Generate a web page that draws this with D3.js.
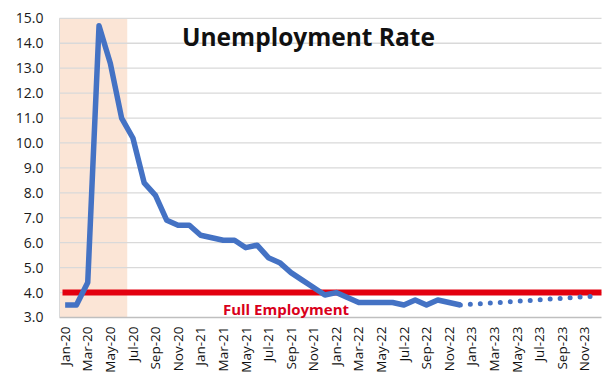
<!DOCTYPE html>
<html><head><meta charset="utf-8">
<script src="https://cdn.jsdelivr.net/npm/d3@7"></script>
<style>body{margin:0;background:#fff}svg{display:block}</style>
</head><body>
<script>
const months = ["Jan","Feb","Mar","Apr","May","Jun","Jul","Aug","Sep","Oct","Nov","Dec"];
const years = ["20","21","22","23"];
const categories = [];
years.forEach(y => months.forEach(m => categories.push(m + "-" + y)));
const actualValues = [3.5,3.5,4.4,14.7,13.2,11.0,10.2,8.4,7.9,6.9,6.7,6.7,
  6.3,6.2,6.1,6.1,5.8,5.9,5.4,5.2,4.8,4.5,4.2,3.9,
  4.0,3.8,3.6,3.6,3.6,3.6,3.5,3.7,3.5,3.7,3.6,3.5];
const forecastValues = [3.5,3.53,3.56,3.59,3.62,3.65,3.68,3.71,3.74,3.77,3.80,3.83,3.86];
const forecastStart = "Dec-22";
const fullEmployment = 4.0;
const shadedCategories = ["Jan-20","Feb-20","Mar-20","Apr-20","May-20","Jun-20"];
const yTicks = [3,4,5,6,7,8,9,10,11,12,13,14,15];

const W = 609, H = 390;
const m = {l:59.5, r:7.5, t:18.3, b:72.5};
const svg = d3.select("body").append("svg").attr("width", W).attr("height", H);
const x = d3.scaleBand().domain(categories).range([m.l, W - m.r]).padding(0);
const y = d3.scaleLinear().domain([3, 15]).range([H - m.b, m.t]);
const font = "Open Sans, Liberation Sans, sans-serif";

// shaded region
svg.append("rect")
  .attr("x", x(shadedCategories[0]))
  .attr("y", y(15))
  .attr("width", x(shadedCategories[shadedCategories.length-1]) + x.bandwidth() - x(shadedCategories[0]))
  .attr("height", y(3) - y(15))
  .attr("fill", "#FBE5D6");

// gridlines
svg.append("g").selectAll("line").data(yTicks.slice(1)).join("line")
  .attr("x1", m.l).attr("x2", W - m.r)
  .attr("y1", d => y(d)).attr("y2", d => y(d))
  .attr("stroke", "#d9d9d9").attr("stroke-width", 1.3);

// axes lines
svg.append("line").attr("x1", m.l).attr("x2", W - m.r).attr("y1", y(3)).attr("y2", y(3))
  .attr("stroke", "#bfbfbf").attr("stroke-width", 1.3);
svg.append("line").attr("x1", m.l).attr("x2", m.l).attr("y1", y(15)).attr("y2", y(3))
  .attr("stroke", "#d9d9d9").attr("stroke-width", 1);

// y axis
const yAxis = svg.append("g").attr("transform", `translate(${m.l - 14},0)`)
  .call(d3.axisLeft(y).tickValues(yTicks).tickFormat(d3.format(".1f")).tickSize(0).tickPadding(2));
yAxis.select(".domain").remove();
yAxis.selectAll("text").attr("font-family", font).attr("font-size", 14).attr("fill", "#1a1a1a");

// x axis
const xAxis = svg.append("g").attr("transform", `translate(0,${y(3)})`)
  .call(d3.axisBottom(x).tickValues(categories.filter((d,i) => i % 2 === 0)).tickSize(0));
xAxis.select(".domain").remove();
xAxis.selectAll("text")
  .attr("font-family", font).attr("font-size", 13.5).attr("fill", "#111")
  .attr("transform", "rotate(-90)")
  .attr("text-anchor", "end")
  .attr("x", -9).attr("y", 0).attr("dy", "0.35em");

// full employment line
svg.append("line")
  .attr("x1", x(categories[0]) + 3).attr("x2", W - m.r)
  .attr("y1", y(fullEmployment)).attr("y2", y(fullEmployment))
  .attr("stroke", "#E3000F").attr("stroke-width", 6);

const line = d3.line().x(d => x(d.c) + x.bandwidth()/2).y(d => y(d.v));
const actual = actualValues.map((v,i) => ({c: categories[i], v}));
const fStart = categories.indexOf(forecastStart);
const forecast = forecastValues.map((v,i) => ({c: categories[fStart + i], v}));

svg.append("path").datum(actual).attr("d", line)
  .attr("fill", "none").attr("stroke", "#4472C4").attr("stroke-width", 5.5)
  .attr("stroke-linejoin", "round");
svg.append("path").datum(forecast).attr("d", line)
  .attr("fill", "none").attr("stroke", "#4472C4").attr("stroke-width", 5)
  .attr("stroke-linecap", "round").attr("stroke-dasharray", "0,10")
  .attr("stroke-dashoffset", -10);

// labels
svg.append("text").attr("x", 182).attr("y", 46).text("Unemployment Rate")
  .attr("font-family", font).attr("font-weight", "bold").attr("font-size", 24.5).attr("fill", "#111");
svg.append("text").attr("x", 286).attr("y", 315).attr("text-anchor", "middle").text("Full Employment")
  .attr("font-family", font).attr("font-weight", "bold").attr("font-size", 15).attr("fill", "#D9001B");
</script>
</body></html>
